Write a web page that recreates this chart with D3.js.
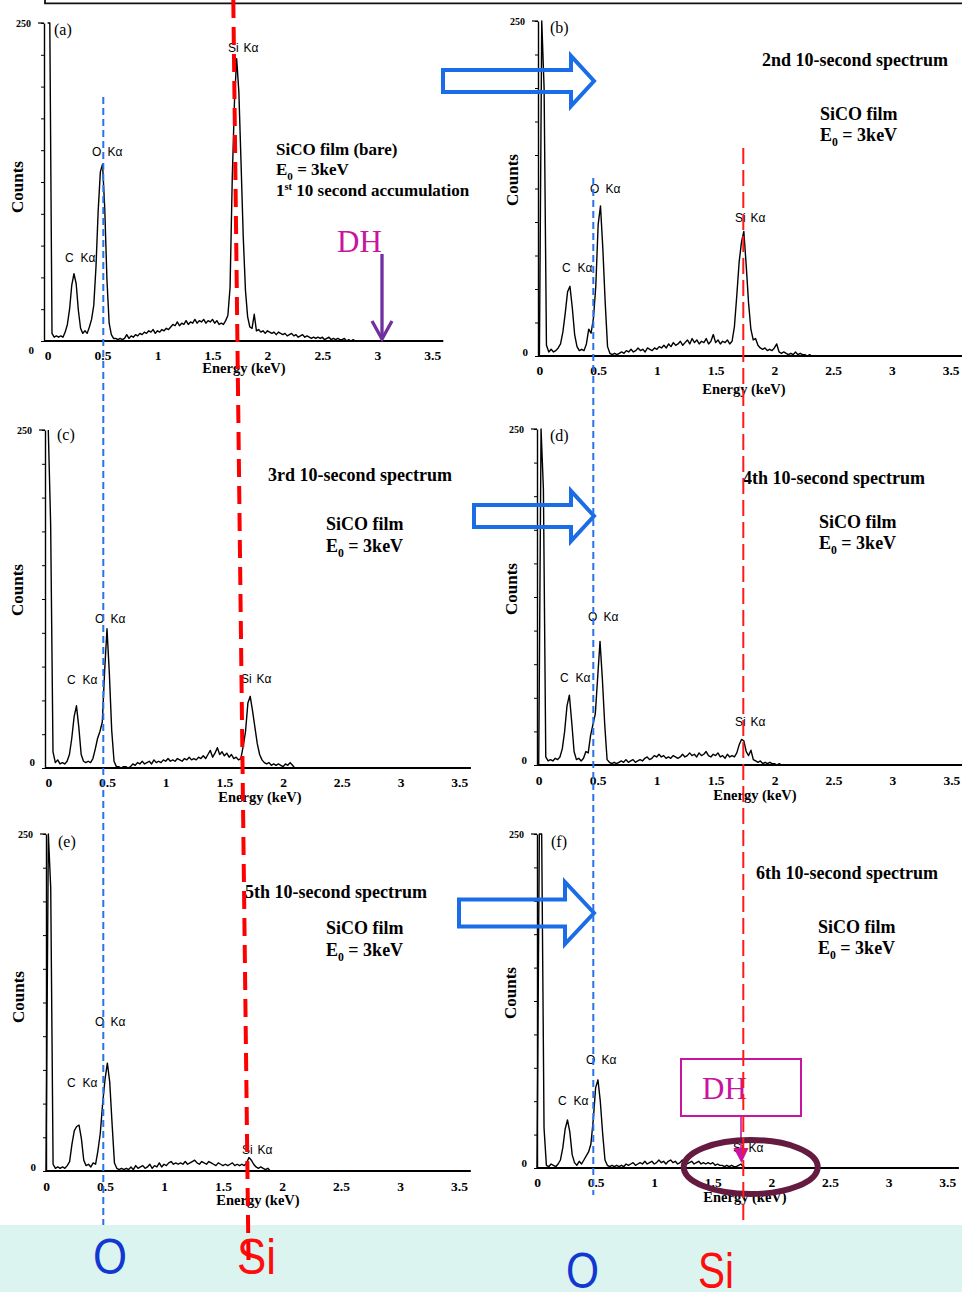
<!DOCTYPE html>
<html>
<head>
<meta charset="utf-8">
<script src="https://cdn.jsdelivr.net/npm/d3@7"></script>
<style>
  html, body { margin: 0; padding: 0; background: #fff; }
  svg { display: block; }
</style>
</head>
<body>
<svg id="fig" width="962" height="1292"></svg>
<script>
// EDS spectra of a SiCO film, six successive 10-second accumulations at E0 = 3 keV.
// Each spectrum is a list of counts per channel, channel width 0.02 keV, starting at 0 keV.
const channelWidth = 0.02;

const countsA = [
  250,250,6,3,4,3,4,3,7,13,
  25,44,53,45,24,10,6,8,6,11,
  17,28,58,102,133,139,104,48,14,5,
  2,2,1,2,1,2,5,2,4,3,
  5,4,6,5,7,6,8,7,9,6,
  8,7,9,8,10,9,11,13,12,15,
  12,14,13,16,13,15,14,17,14,16,
  15,17,14,16,15,17,14,16,13,14,
  13,16,20,42,128,188,222,196,140,82,
  40,19,11,10,21,8,9,7,8,6,
  8,7,6,7,5,7,6,5,6,4,
  5,6,4,5,3,4,5,3,4,3,
  2,3,2,3,2,3,1,2,3,1,
  2,1,2,1,1,2,0,1,0,1,
  0
];
const countsB = [
  0,250,200,8,3,5,3,4,6,9,
  18,32,48,52,36,16,7,4,5,4,
  9,20,17,28,52,98,112,80,40,7,
  2,1,2,1,2,3,2,4,3,5,
  3,4,6,4,5,3,6,5,4,6,
  5,7,6,8,6,9,7,10,8,9,
  11,8,10,12,9,13,10,12,9,11,
  10,13,9,11,16,10,12,9,11,10,
  12,9,11,22,45,70,85,93,68,40,
  20,12,13,8,6,5,6,4,5,4,
  6,9,3,2,3,2,1,2,1,3,
  1,2,1,1,0,1,0,0
];
const countsC = [
  250,180,12,4,6,3,4,3,5,10,
  22,38,46,30,10,5,4,5,4,7,
  14,22,27,34,72,103,70,28,5,1,
  1,0,1,1,0,1,3,2,4,3,
  5,3,4,5,3,6,4,5,4,6,
  5,7,5,6,5,7,6,5,7,6,
  8,6,7,6,8,7,9,7,10,13,
  8,11,15,10,12,9,11,8,10,7,
  8,6,7,16,27,48,53,42,30,18,
  10,6,4,3,4,2,3,2,3,2,
  1,3,2,4,2,0
];
const countsD = [
  0,250,205,6,3,4,3,5,4,6,
  12,25,44,52,32,10,4,5,3,5,
  10,9,22,30,38,65,92,64,30,4,
  2,1,2,1,2,3,2,4,2,3,
  4,2,3,4,3,5,6,4,5,7,
  6,8,6,7,5,6,5,7,6,5,
  6,8,6,7,9,7,8,6,9,7,
  8,10,7,6,8,7,9,6,7,5,
  8,6,7,6,9,15,19,18,10,7,
  11,4,3,2,3,1,2,1,2,1,
  1,0,1,0
];
const countsE = [
  0,250,210,5,2,3,2,3,2,4,
  7,20,30,33,34,24,8,4,5,3,
  6,5,15,28,50,68,80,66,35,6,
  2,1,2,1,2,1,3,1,4,2,
  3,4,2,3,5,2,4,3,6,3,
  5,4,6,7,5,6,5,6,5,7,
  5,6,7,8,6,5,7,6,5,7,
  6,5,4,6,5,4,5,4,5,6,
  4,5,4,5,4,6,10,8,5,3,
  2,3,2,1,2,0
];
const countsF = [
  0,250,250,30,2,1,3,2,1,3,
  6,15,29,36,27,10,4,2,5,3,
  6,9,12,18,36,60,66,50,26,6,
  2,1,2,1,2,1,2,1,3,2,
  3,4,2,3,4,3,5,3,4,5,
  3,4,6,4,5,3,5,6,4,5,
  3,4,6,5,3,4,5,3,4,5,
  3,4,3,4,3,4,2,3,2,2,
  1,2,1,2,1,1,2,3,1,0
];

const panelTags = ["(a)", "(b)", "(c)", "(d)", "(e)", "(f)"];
const spectrumTitles = ["", "2nd 10-second spectrum", "3rd 10-second spectrum",
  "4th 10-second spectrum", "5th 10-second spectrum", "6th 10-second spectrum"];
const energyTicks = [0, 0.5, 1, 1.5, 2, 2.5, 3, 3.5];
const energyTickLabels = ["0", "0.5", "1", "1.5", "2", "2.5", "3", "3.5"];
const countTicks = [0, 25, 50, 75, 100, 125, 150, 175, 200, 225, 250];
const countMax = 250;
const energyAxisEnd = 3.6;
const peakElements = ["C", "O", "Si"];
const lineName = "K\u03b1";

const SERIF = "'Liberation Serif', 'Times New Roman', serif";
const SANS = "'Liberation Sans', Arial, sans-serif";

// Page layout of each spectrum panel (pixel positions only).
const layout = [
  { counts: countsA, e0: 47.6, e35: 432.3, axisX: 44, yBase: 341, yTop: 23, tickBase: 360, zeroY: 354,
    energyX: 244, energyY: 373, countsX: 17, countsY: 187, tagX: 54, tagY: 35, noteSize: 17,
    peaks: [[65, 262], [92, 156], [228, 52]],
    notes: [["film", 276, 155], ["e0", 276, 175], ["first", 276, 196]] },
  { counts: countsB, e0: 539.4, e35: 950.6, axisX: 538, yBase: 356, yTop: 21, tickBase: 375.5, zeroY: 356,
    energyX: 744, energyY: 394, countsX: 512, countsY: 180, tagX: 550, tagY: 33, noteSize: 18,
    peaks: [[562, 272], [590, 193], [735, 222]],
    notes: [["title", 762, 66], ["sico", 820, 120], ["e0", 820, 141]] },
  { counts: countsC, e0: 48.3, e35: 459.2, axisX: 45, yBase: 768, yTop: 430, tickBase: 787.5, zeroY: 766,
    energyX: 260, energyY: 802, countsX: 17, countsY: 590, tagX: 57, tagY: 440, noteSize: 18,
    peaks: [[67, 684], [95, 623], [241, 683]],
    notes: [["title", 268, 481], ["sico", 326, 530], ["e0", 326, 552]] },
  { counts: countsD, e0: 538.7, e35: 951.4, axisX: 537, yBase: 765, yTop: 429, tickBase: 785.5, zeroY: 764,
    energyX: 755, energyY: 800, countsX: 511, countsY: 589, tagX: 550, tagY: 441, noteSize: 18,
    peaks: [[560, 682], [588, 621], [735, 726]],
    notes: [["title", 743, 484], ["sico", 819, 528], ["e0", 819, 549]] },
  { counts: countsE, e0: 46, e35: 459, axisX: 46, yBase: 1171, yTop: 834, tickBase: 1191.5, zeroY: 1171,
    energyX: 258, energyY: 1205, countsX: 18, countsY: 997, tagX: 58, tagY: 847, noteSize: 18,
    peaks: [[67, 1087], [95, 1026], [242, 1154]],
    notes: [["title", 245, 898], ["sico", 326, 934], ["e0", 326, 956]] },
  { counts: countsF, e0: 537, e35: 947.2, axisX: 537, yBase: 1168, yTop: 834, tickBase: 1187.5, zeroY: 1167,
    energyX: 745, energyY: 1202, countsX: 510, countsY: 993, tagX: 551, tagY: 847, noteSize: 18,
    peaks: [[558, 1105], [586, 1064], [733, 1152]],
    notes: [["title", 756, 879], ["sico", 818, 933], ["e0", 818, 954]] }
];

const svg = d3.select("#fig");
svg.append("rect").attr("width", 962).attr("height", 1292).attr("fill", "#ffffff");

// frame edge running along the top of the page
svg.append("path").attr("d", "M45,-5 V3.3 H970")
  .attr("fill", "none").attr("stroke", "#111").attr("stroke-width", 1.8);

// element legend strip along the bottom
svg.append("rect").attr("x", 0).attr("y", 1225).attr("width", 962).attr("height", 67).attr("fill", "#dcf4f0");
const stripLabels = [
  { t: "O", x: 93, y: 1274, w: 34, c: "#1238d2" },
  { t: "Si", x: 237, y: 1274, w: 39, c: "#ff0d0d" },
  { t: "O", x: 566, y: 1288, w: 33, c: "#1238d2" },
  { t: "Si", x: 698, y: 1288, w: 36, c: "#ff0d0d" }
];
svg.selectAll("text.strip").data(stripLabels).join("text")
  .attr("class", "strip")
  .attr("x", d => d.x).attr("y", d => d.y)
  .attr("textLength", d => d.w).attr("lengthAdjust", "spacingAndGlyphs")
  .attr("font-family", SANS).attr("font-size", 50).attr("fill", d => d.c)
  .text(d => d.t);

function addE0(g, x, y, size) {
  const t = g.append("text").attr("x", x).attr("y", y)
    .attr("font-family", SERIF).attr("font-weight", "bold").attr("font-size", size).attr("fill", "#000");
  t.append("tspan").text("E");
  t.append("tspan").attr("dy", size * 0.28).attr("font-size", size * 0.65).text("0");
  t.append("tspan").attr("dy", -size * 0.28).text(" = 3keV");
}

layout.forEach((p, k) => {
  const x = d3.scaleLinear().domain([0, 3.5]).range([p.e0, p.e35]);
  const y = d3.scaleLinear().domain([0, countMax]).range([p.yBase, p.yTop]);
  const g = svg.append("g");

  // count axis with minor ticks every 25 counts
  g.append("g").attr("transform", `translate(${p.axisX},0)`)
    .call(d3.axisLeft(y).tickValues(countTicks).tickSizeInner(3).tickSizeOuter(0).tickFormat(""))
    .call(a => a.select(".domain").attr("stroke", "#000").attr("stroke-width", 1.4))
    .call(a => a.selectAll(".tick line").attr("stroke", "#000").attr("stroke-width", 1));
  g.append("line").attr("x1", p.axisX - 6).attr("x2", p.axisX)
    .attr("y1", y(countMax)).attr("y2", y(countMax)).attr("stroke", "#000").attr("stroke-width", 1.2);
  g.append("text").attr("x", p.axisX - 13).attr("y", y(countMax) + 4)
    .attr("text-anchor", "end").attr("font-family", SERIF).attr("font-weight", "bold")
    .attr("font-size", 10).text(String(countMax));
  g.append("text").attr("x", p.axisX - 10).attr("y", p.zeroY)
    .attr("text-anchor", "end").attr("font-family", SERIF).attr("font-weight", "bold")
    .attr("font-size", 11).text("0");

  // energy axis
  g.append("line").attr("x1", p.axisX).attr("x2", x(energyAxisEnd))
    .attr("y1", y(0)).attr("y2", y(0)).attr("stroke", "#000").attr("stroke-width", 2);
  g.append("g").attr("transform", `translate(0,${y(0)})`)
    .call(d3.axisBottom(x).tickValues(energyTicks).tickSize(0)
      .tickPadding(p.tickBase - p.yBase - 9.6)
      .tickFormat((d, i) => energyTickLabels[i]))
    .call(a => a.select(".domain").remove())
    .attr("font-family", SERIF).attr("font-size", 13.5)
    .call(a => a.selectAll("text").attr("font-weight", "bold").attr("fill", "#000"));

  // spectrum trace
  const trace = d3.line().x((d, i) => x(i * channelWidth)).y(d => y(d));
  g.append("path").datum(p.counts).attr("d", trace)
    .attr("fill", "none").attr("stroke", "#000").attr("stroke-width", 1.4)
    .attr("stroke-linejoin", "round");

  // axis titles
  g.append("text").attr("x", p.energyX).attr("y", p.energyY).attr("text-anchor", "middle")
    .attr("font-family", SERIF).attr("font-weight", "bold").attr("font-size", 14.5).text("Energy (keV)");
  g.append("text").attr("transform", `translate(${p.countsX},${p.countsY}) rotate(-90)`)
    .attr("text-anchor", "middle").attr("dy", "0.35em")
    .attr("font-family", SERIF).attr("font-weight", "bold").attr("font-size", 17).text("Counts");
  g.append("text").attr("x", p.tagX).attr("y", p.tagY)
    .attr("font-family", SERIF).attr("font-size", 16).text(panelTags[k]);

  // peak identifications
  p.peaks.forEach((pos, j) => {
    const t = g.append("text").attr("font-family", SANS).attr("font-size", 12).attr("fill", "#000");
    t.append("tspan").attr("x", pos[0]).attr("y", pos[1]).text(peakElements[j]);
    t.append("tspan").attr("x", pos[0] + 15.5).attr("y", pos[1]).text(lineName);
  });

  // sample and acquisition notes
  p.notes.forEach(n => {
    const [kind, nx, ny] = n;
    const s = p.noteSize;
    if (kind === "e0") { addE0(g, nx, ny, s); return; }
    const t = g.append("text").attr("x", nx).attr("y", ny)
      .attr("font-family", SERIF).attr("font-weight", "bold").attr("font-size", s).attr("fill", "#000");
    if (kind === "film") t.text("SiCO film (bare)");
    else if (kind === "sico") t.text("SiCO film");
    else if (kind === "title") t.text(spectrumTitles[k]);
    else if (kind === "first") {
      t.append("tspan").text("1");
      t.append("tspan").attr("dy", -s * 0.35).attr("font-size", s * 0.62).text("st");
      t.append("tspan").attr("dy", s * 0.35).text(" 10 second accumulation");
    }
  });
});

// outlined arrows pointing from each left spectrum to its successor
const arrows = [
  { x0: 443, xh: 571, tip: 594, cy: 81, sh: 11, hh: 25 },
  { x0: 474, xh: 571, tip: 594, cy: 516, sh: 11, hh: 25 },
  { x0: 459, xh: 565, tip: 594, cy: 913, sh: 13.5, hh: 31 }
];
svg.selectAll("path.step").data(arrows).join("path")
  .attr("class", "step")
  .attr("d", a => `M${a.x0},${a.cy - a.sh} H${a.xh} V${a.cy - a.hh} L${a.tip},${a.cy} L${a.xh},${a.cy + a.hh} V${a.cy + a.sh} H${a.x0} Z`)
  .attr("fill", "none").attr("stroke", "#1a6de6").attr("stroke-width", 4).attr("stroke-linejoin", "miter");

// "DH" marker on the first spectrum
svg.append("text").attr("x", 337).attr("y", 252).attr("font-family", SERIF)
  .attr("font-size", 31).attr("fill", "#c8149e").text("DH");
svg.append("line").attr("x1", 382).attr("x2", 382).attr("y1", 254).attr("y2", 338)
  .attr("stroke", "#7030a0").attr("stroke-width", 3.3);
svg.append("polyline").attr("points", "372,321 382,339 392,321")
  .attr("fill", "none").attr("stroke", "#7030a0").attr("stroke-width", 3.3);

// "DH" marker on the last spectrum
svg.append("rect").attr("x", 681).attr("y", 1059).attr("width", 120).attr("height", 57)
  .attr("fill", "none").attr("stroke", "#c8149e").attr("stroke-width", 2);
svg.append("text").attr("x", 702).attr("y", 1099).attr("font-family", SERIF)
  .attr("font-size", 31).attr("fill", "#c8149e").text("DH");
svg.append("line").attr("x1", 741).attr("x2", 741).attr("y1", 1116).attr("y2", 1150)
  .attr("stroke", "#c8149e").attr("stroke-width", 1.6);
svg.append("polygon").attr("points", "733.5,1148 748.5,1148 741.5,1163").attr("fill", "#c8149e");
svg.append("ellipse").attr("cx", 750.7).attr("cy", 1167).attr("rx", 67).attr("ry", 27)
  .attr("fill", "none").attr("stroke", "#651a3f").attr("stroke-width", 6);

// guide lines marking the O and Si peak positions
const guides = [
  { x1: 233.3, y1: 0, x2: 248.6, y2: 1268, c: "#ff0000", w: 4, dash: "18 9" },
  { x1: 103.3, y1: 97, x2: 103.3, y2: 1225, c: "#2a72e8", w: 2, dash: "7 4" },
  { x1: 743.3, y1: 148, x2: 743.3, y2: 1220, c: "#ff1a1a", w: 2, dash: "16 6" },
  { x1: 593.3, y1: 178, x2: 593.3, y2: 1195, c: "#2a72e8", w: 2, dash: "7 4" }
];
svg.selectAll("line.guide").data(guides).join("line")
  .attr("class", "guide")
  .attr("x1", d => d.x1).attr("y1", d => d.y1).attr("x2", d => d.x2).attr("y2", d => d.y2)
  .attr("stroke", d => d.c).attr("stroke-width", d => d.w).attr("stroke-dasharray", d => d.dash);
</script>
</body>
</html>
